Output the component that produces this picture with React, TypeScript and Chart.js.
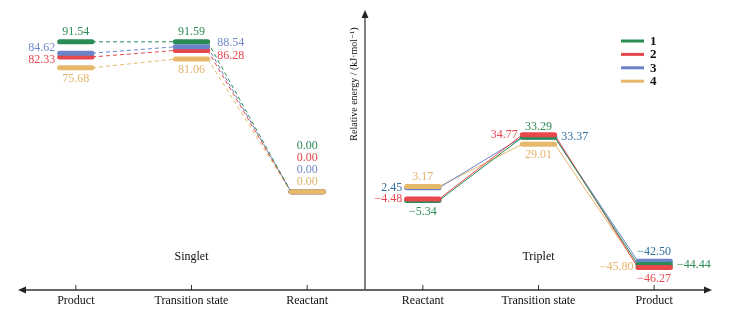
import { useEffect, useRef } from "react";
import { Chart, registerables } from "chart.js";

Chart.register(...registerables);

// ---- data ----
const stageLabels = ["Product", "Transition state", "Reactant", "Reactant", "Transition state", "Product"];
const panelNames = ["Singlet", "Triplet"];
const seriesNames = ["1", "2", "3", "4"];
// Singlet: Product, Transition state, Reactant
const singlet1 = [91.54, 91.59, 0.0];
const singlet2 = [82.33, 86.28, 0.0];
const singlet3 = [84.62, 88.54, 0.0];
const singlet4 = [75.68, 81.06, 0.0];
// Triplet: Reactant, Transition state, Product
const triplet1 = [-5.34, 33.29, -44.44];
const triplet2 = [-4.48, 34.77, -46.27];
const triplet3 = [2.45, 33.37, -42.5];
const triplet4 = [3.17, 29.01, -45.8];
const yAxisTitle = "Relative energy / (kJ\u00B7mol\u207B\u00B9)";
const yMin = -60;
const yMax = 111;

// ---- styles ----
const lineColors = ["#2a8c55", "#e8474e", "#6b84c8", "#e5b86c"];
const labelColorsSinglet = ["#2e8b57", "#e8474e", "#7189cd", "#e3b46a"];
const labelColorsTriplet = ["#2e8b57", "#e8474e", "#2f6f9f", "#e3b46a"];
// bottom -> top drawing order of the level bars (series indices)
const drawStackSinglet = [0, 1, 2, 3];
const drawStackTriplet = [2, 3, 0, 1];
// label placement per series, per stage
const singletPlace = [
  ["above", "above", "stack"],
  ["leftDown", "rightDown", "stack"],
  ["leftUp", "rightUp", "stack"],
  ["below", "below", "stack"],
];
const tripletPlace = [
  ["below", "above", "right"],
  ["left", "left", "below"],
  ["left", "right", "above"],
  ["above", "below", "left"],
];
const HALF = 0.14;
const SERIF = "'Liberation Serif', 'DejaVu Serif', serif";

const singletSeries = [singlet1, singlet2, singlet3, singlet4];
const tripletSeries = [triplet1, triplet2, triplet3, triplet4];

function levelPoints(vals: number[], start: number) {
  const pts: any[] = [];
  vals.forEach((v, i) => {
    const x = start + i;
    pts.push({ x: x - HALF, y: v }, { x: x + HALF, y: v }, { x: x + 0.5, y: null });
  });
  return pts;
}
function connectorPoints(vals: number[], start: number) {
  const pts: any[] = [];
  for (let i = 0; i < vals.length - 1; i++) {
    pts.push(
      { x: start + i + HALF, y: vals[i] },
      { x: start + i + 1 - HALF, y: vals[i + 1] },
      { x: start + i + 1, y: null }
    );
  }
  return pts;
}

const diagramPlugin = {
  id: "diagram",
  beforeDatasetsDraw(chart: any) {
    const { ctx, chartArea, scales } = chart;
    const xs = scales.x;
    const ys = scales.y;
    const axisY = ys.getPixelForValue(yMin);
    const midX = xs.getPixelForValue(2.5);
    ctx.save();
    ctx.strokeStyle = "#333";
    ctx.fillStyle = "#222";
    ctx.lineWidth = 1.5;
    // horizontal axis
    ctx.beginPath();
    ctx.moveTo(chartArea.left + 6, axisY);
    ctx.lineTo(chartArea.right - 6, axisY);
    ctx.stroke();
    // arrow heads
    ctx.beginPath();
    ctx.moveTo(chartArea.left, axisY);
    ctx.lineTo(chartArea.left + 8, axisY - 3.5);
    ctx.lineTo(chartArea.left + 8, axisY + 3.5);
    ctx.closePath();
    ctx.fill();
    ctx.beginPath();
    ctx.moveTo(chartArea.right, axisY);
    ctx.lineTo(chartArea.right - 8, axisY - 3.5);
    ctx.lineTo(chartArea.right - 8, axisY + 3.5);
    ctx.closePath();
    ctx.fill();
    // vertical axis
    ctx.strokeStyle = "#555";
    ctx.beginPath();
    ctx.moveTo(midX, axisY);
    ctx.lineTo(midX, chartArea.top + 6);
    ctx.stroke();
    ctx.beginPath();
    ctx.moveTo(midX, chartArea.top);
    ctx.lineTo(midX - 3.5, chartArea.top + 8);
    ctx.lineTo(midX + 3.5, chartArea.top + 8);
    ctx.closePath();
    ctx.fill();
    // ticks + labels
    ctx.strokeStyle = "#333";
    ctx.lineWidth = 1;
    ctx.font = `12px ${SERIF}`;
    ctx.textAlign = "center";
    ctx.textBaseline = "middle";
    ctx.fillStyle = "#111";
    stageLabels.forEach((lab, i) => {
      const px = xs.getPixelForValue(i);
      ctx.beginPath();
      ctx.moveTo(px, axisY);
      ctx.lineTo(px, axisY - 5);
      ctx.stroke();
      ctx.fillText(lab, px, axisY + 11);
    });
    // panel names
    ctx.fillText(panelNames[0], xs.getPixelForValue(1), axisY - 33);
    ctx.fillText(panelNames[1], xs.getPixelForValue(4), axisY - 33);
    // y title
    ctx.save();
    ctx.translate(midX - 11, chartArea.top + 74);
    ctx.rotate(-Math.PI / 2);
    ctx.font = `10px ${SERIF}`;
    ctx.fillStyle = "#111";
    ctx.fillText(yAxisTitle, 0, 0);
    ctx.restore();
    ctx.restore();
  },
  afterDatasetsDraw(chart: any) {
    const { ctx, chartArea, scales } = chart;
    const xs = scales.x;
    const ys = scales.y;
    const halfPx = xs.getPixelForValue(HALF) - xs.getPixelForValue(0) + 2.5;
    ctx.save();
    ctx.font = `12px ${SERIF}`;
    ctx.textBaseline = "middle";
    const drawLabels = (series: number[][], start: number, places: string[][], cols: string[]) => {
      series.forEach((vals, s) => {
        vals.forEach((v, i) => {
          const px = xs.getPixelForValue(start + i);
          const py = ys.getPixelForValue(v);
          const txt = v.toFixed(2).replace("-", "\u2212");
          const p = places[s][i];
          ctx.fillStyle = cols[s];
          let x = px;
          let y = py;
          ctx.textAlign = "center";
          if (p === "above") y = py - 10;
          else if (p === "below") y = py + 11;
          else if (p === "stack") y = py - 10 - (3 - s) * 12;
          else if (p.startsWith("left")) {
            ctx.textAlign = "right";
            x = px - halfPx - 2;
            y = p === "leftUp" ? py - 5 : p === "leftDown" ? py + 3 : py;
          } else if (p.startsWith("right")) {
            ctx.textAlign = "left";
            x = px + halfPx + (p === "right" ? 4 : 7);
            y = p === "rightUp" ? py - 4 : p === "rightDown" ? py + 5 : py;
          }
          ctx.fillText(txt, x, y);
        });
      });
    };
    drawLabels(singletSeries, 0, singletPlace, labelColorsSinglet);
    drawLabels(tripletSeries, 3, tripletPlace, labelColorsTriplet);
    // legend
    const lx = chartArea.right - 91;
    const ly = chartArea.top + 31;
    ctx.font = `bold 13px ${SERIF}`;
    ctx.textAlign = "left";
    seriesNames.forEach((name, s) => {
      const y = ly + s * 13.4;
      ctx.strokeStyle = lineColors[s];
      ctx.lineWidth = 3;
      ctx.beginPath();
      ctx.moveTo(lx, y);
      ctx.lineTo(lx + 23, y);
      ctx.stroke();
      ctx.fillStyle = "#111";
      ctx.fillText(name, lx + 29, y + 0.5);
    });
    ctx.restore();
  },
};

export default function App() {
  const ref = useRef<HTMLCanvasElement>(null);
  useEffect(() => {
    if (!ref.current) return;
    const datasets: any[] = [];
    [0, 1, 2, 3].forEach((s) => {
      datasets.push({
        data: connectorPoints(singletSeries[s], 0),
        borderColor: lineColors[s],
        borderWidth: 1,
        borderDash: [4, 3],
        pointRadius: 0,
        spanGaps: false,
        order: 200 + s,
      });
      datasets.push({
        data: connectorPoints(tripletSeries[s], 3),
        borderColor: lineColors[s],
        borderWidth: 1,
        pointRadius: 0,
        spanGaps: false,
        order: 200 + s,
      });
    });
    const level = (vals: number[], start: number, s: number, order: number) => ({
      data: levelPoints(vals, start),
      borderColor: lineColors[s],
      borderWidth: 5,
      borderCapStyle: "round",
      pointRadius: 0,
      spanGaps: false,
      order,
    });
    drawStackSinglet.forEach((s, rank) => datasets.push(level(singletSeries[s], 0, s, 100 - rank)));
    drawStackTriplet.forEach((s, rank) => datasets.push(level(tripletSeries[s], 3, s, 100 - rank)));
    const chart = new Chart(ref.current, {
      type: "line",
      data: { datasets },
      options: {
        animation: false,
        responsive: false,
        maintainAspectRatio: false,
        layout: { padding: { left: 18, right: 22, top: 10, bottom: 27 } },
        scales: {
          x: { type: "linear", min: -0.5, max: 5.5, display: false },
          y: { type: "linear", min: yMin, max: yMax, display: false },
        },
        plugins: { legend: { display: false }, tooltip: { enabled: false } },
        elements: { line: { tension: 0 } },
      },
      plugins: [diagramPlugin],
    });
    return () => chart.destroy();
  }, []);
  return (
    <div style={{ position: "absolute", left: 0, top: 0, width: 734, height: 317, background: "#fff" }}>
      <canvas ref={ref} width={734} height={317} style={{ width: 734, height: 317 }} />
    </div>
  );
}
